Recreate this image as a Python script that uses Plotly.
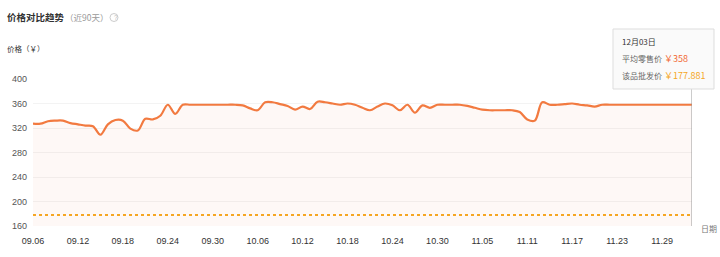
import pandas as pd
import plotly.graph_objects as go

# ---- data ----
dates = pd.date_range("2017-09-06", "2017-12-03", freq="D")
date_labels = [d.strftime("%m.%d") for d in dates]

retail_price = [
    327, 327, 331, 332, 332, 328, 326, 324, 323, 309,
    326, 333, 332, 319, 316, 335, 334, 340, 358, 343,
    358, 358, 358, 358, 358, 358, 358, 358, 357, 352,
    349, 362, 362, 359, 356, 350, 355, 351, 363, 362,
    360, 358, 360, 358, 353, 349, 355, 360, 357, 349,
    358, 345, 357, 353, 358, 358, 358, 358, 356, 353,
    350, 349, 349, 349, 349, 346, 334, 332, 362, 358,
    358, 359, 360, 358, 357, 355, 358, 358, 358, 358,
    358, 358, 358, 358, 358, 358, 358, 358, 358,
]
wholesale_price = [177.881] * len(date_labels)

tick_step = 6
tick_labels = date_labels[::tick_step]
y_ticks = [160, 200, 240, 280, 320, 360, 400]

# ---- geometry helpers (pixel -> paper) ----
L, R, T, B = 33, 692, 79, 226
W, H = 720, 257


def px(x):
    return (x - L) / (R - L)


def py(y):
    return (B - y) / (B - T)


CJK = "Noto Sans CJK SC, Liberation Sans, sans-serif"

fig = go.Figure()
fig.add_trace(go.Scatter(
    x=date_labels, y=retail_price, mode="lines",
    line=dict(color="#f27a40", width=2.2, shape="spline", smoothing=1),
    fill="tozeroy", fillcolor="rgba(245,120,70,0.05)",
    hoverinfo="skip", showlegend=False,
))
fig.add_trace(go.Scatter(
    x=date_labels, y=wholesale_price, mode="lines",
    line=dict(color="#f5a623", width=2, dash="dot"),
    hoverinfo="skip", showlegend=False,
))

fig.update_layout(
    width=W, height=H,
    margin=dict(l=L, r=W - R, t=T, b=H - B),
    paper_bgcolor="white", plot_bgcolor="white",
    font=dict(family="Liberation Sans, Arial, sans-serif", size=9, color="#444"),
    xaxis=dict(
        type="category", range=[0, len(date_labels) - 1],
        tickmode="array", tickvals=tick_labels, ticktext=tick_labels,
        showgrid=False, zeroline=False, showline=False, ticks="",
        tickfont=dict(size=9, color="#333"), ticklabelstandoff=8,
    ),
    yaxis=dict(
        range=[160, 400], tickmode="array", tickvals=y_ticks,
        showgrid=True, gridcolor="#f3f3f3", gridwidth=1,
        zeroline=False, showline=False, ticks="",
        tickfont=dict(size=9, color="#555"), ticklabelstandoff=5,
    ),
)

last_idx = len(date_labels) - 1
shapes = [
    # vertical hover line
    dict(type="line", xref="x", yref="paper", x0=last_idx, x1=last_idx,
         y0=0, y1=py(88), line=dict(color="#999999", width=1)),
    # tooltip box
    dict(type="rect", xref="paper", yref="paper", x0=px(613), x1=px(714),
         y0=py(89), y1=py(29), line=dict(color="#dddddd", width=1),
         fillcolor="rgba(250,250,250,0.97)", layer="above"),
    # help icon circle
    dict(type="circle", xref="paper", yref="paper", x0=px(110), x1=px(118),
         y0=py(21.5), y1=py(13.5), line=dict(color="#cccccc", width=1)),
]
fig.update_layout(shapes=shapes)

ann = [
    dict(x=px(5), y=py(17), text="<b>价格对比趋势</b>", font=dict(family=CJK, size=9.5, color="#333")),
    dict(x=px(63), y=py(17), text="（近90天）", font=dict(family=CJK, size=8.5, color="#999")),
    dict(x=px(111.6), y=py(17.5), text="?", font=dict(family="Liberation Sans", size=6.5, color="#bbb")),
    dict(x=px(5), y=py(48), text="价格（￥）", font=dict(family=CJK, size=7.5, color="#333")),
    dict(x=px(699), y=py(228), text="日期", font=dict(family=CJK, size=8, color="#777")),
    dict(x=px(620), y=py(42), text="12月03日", font=dict(family=CJK, size=8, color="#333")),
    dict(x=px(620), y=py(58), text="平均零售价", font=dict(family=CJK, size=8, color="#666")),
    dict(x=px(662), y=py(58), text="￥358", font=dict(family=CJK, size=9, color="#f26a35")),
    dict(x=px(620), y=py(75), text="该品批发价", font=dict(family=CJK, size=8, color="#666")),
    dict(x=px(662), y=py(75), text="￥177.881", font=dict(family=CJK, size=9, color="#f5a623")),
]
for a in ann:
    a.update(xref="paper", yref="paper", xanchor="left", yanchor="middle", showarrow=False)
fig.update_layout(annotations=ann)

fig.write_html("out.html")
